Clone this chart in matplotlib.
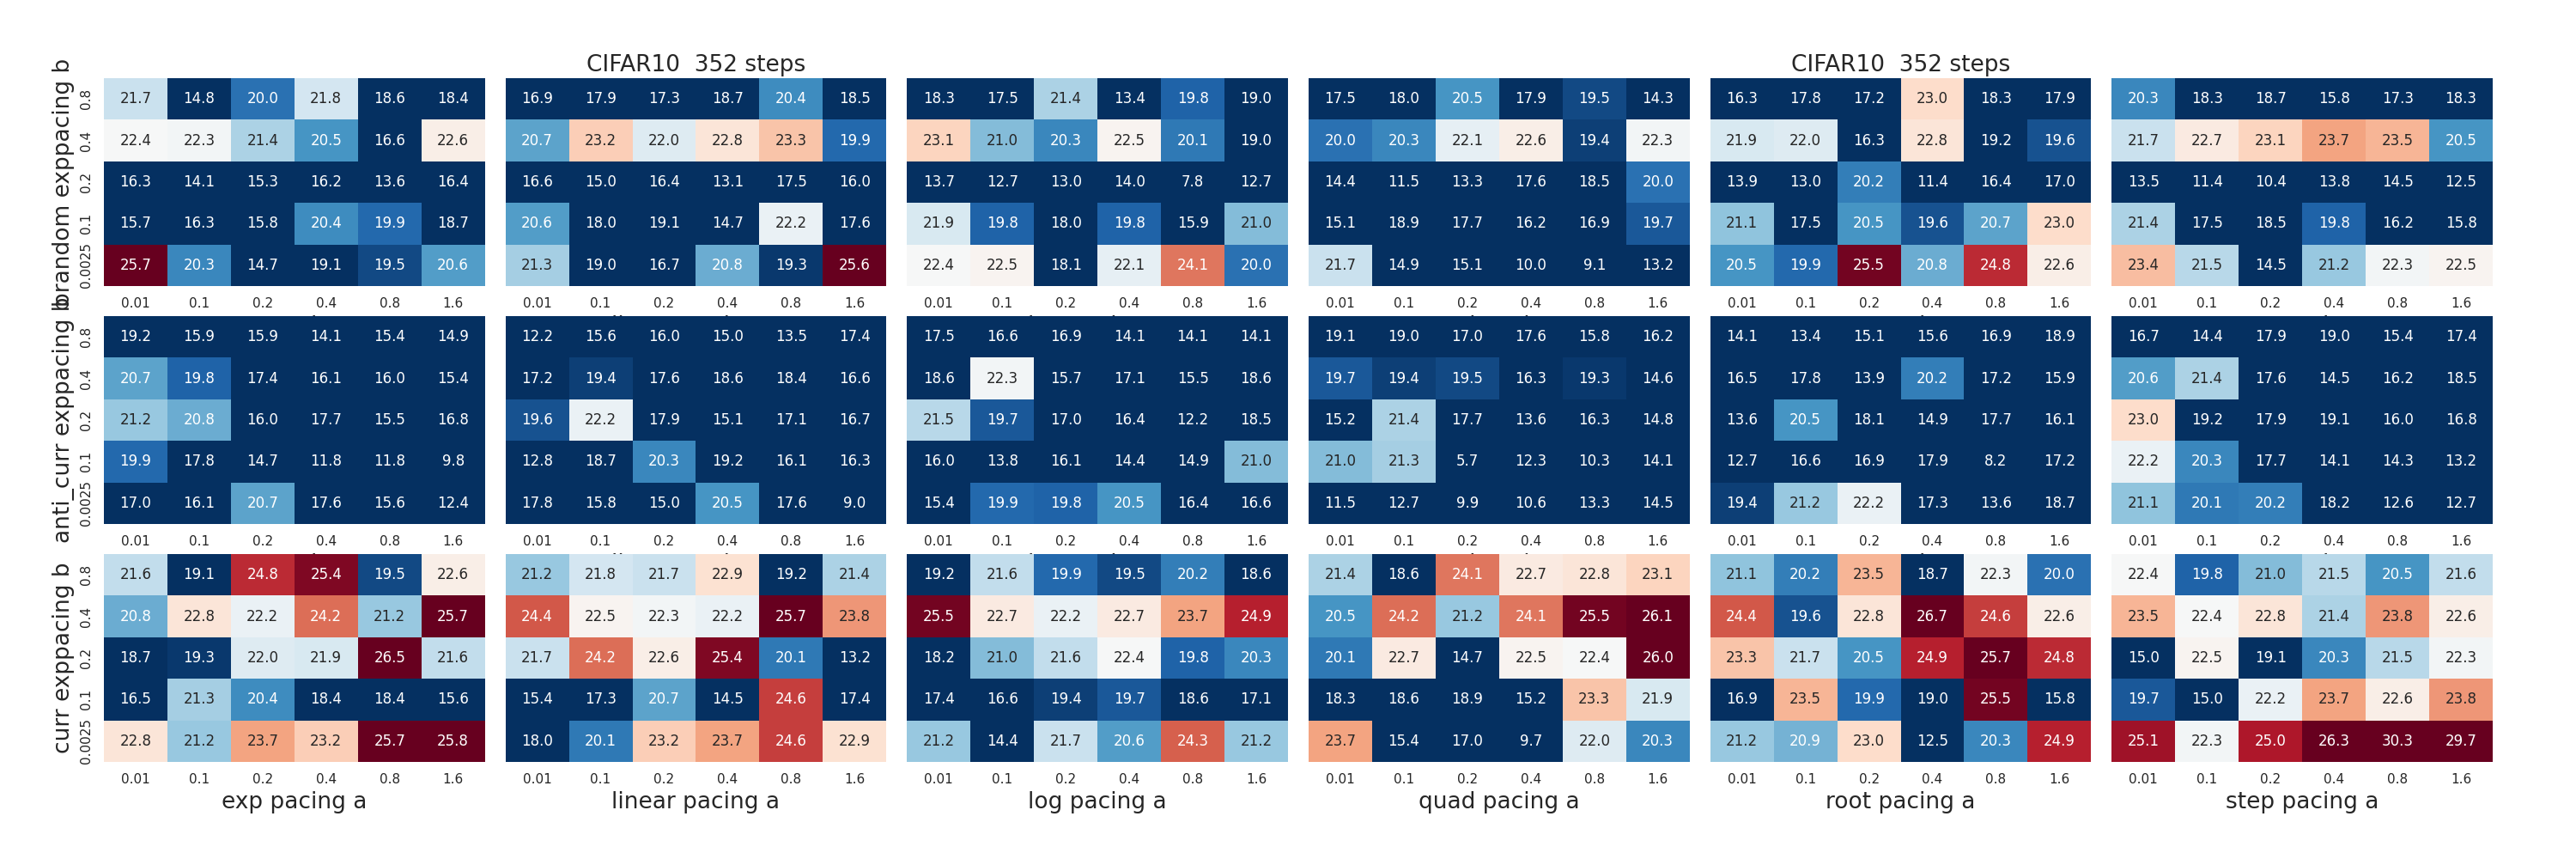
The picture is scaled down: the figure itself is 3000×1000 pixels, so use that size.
import matplotlib
matplotlib.use("Agg")
import matplotlib.pyplot as plt
import seaborn as sns

sns.set_theme()

a_vals = ["0.01", "0.1", "0.2", "0.4", "0.8", "1.6"]
b_vals = ["0.8", "0.4", "0.2", "0.1", "0.0025"]
pacings = ["exp", "linear", "log", "quad", "root", "step"]
orders = ["brandom", "anti_curr", "curr"]

# brandom
brandom_exp = [[21.7, 14.8, 20.0, 21.8, 18.6, 18.4],
               [22.4, 22.3, 21.4, 20.5, 16.6, 22.6],
               [16.3, 14.1, 15.3, 16.2, 13.6, 16.4],
               [15.7, 16.3, 15.8, 20.4, 19.9, 18.7],
               [25.7, 20.3, 14.7, 19.1, 19.5, 20.6]]
brandom_linear = [[16.9, 17.9, 17.3, 18.7, 20.4, 18.5],
                  [20.7, 23.2, 22.0, 22.8, 23.3, 19.9],
                  [16.6, 15.0, 16.4, 13.1, 17.5, 16.0],
                  [20.6, 18.0, 19.1, 14.7, 22.2, 17.6],
                  [21.3, 19.0, 16.7, 20.8, 19.3, 25.6]]
brandom_log = [[18.3, 17.5, 21.4, 13.4, 19.8, 19.0],
               [23.1, 21.0, 20.3, 22.5, 20.1, 19.0],
               [13.7, 12.7, 13.0, 14.0, 7.8, 12.7],
               [21.9, 19.8, 18.0, 19.8, 15.9, 21.0],
               [22.4, 22.5, 18.1, 22.1, 24.1, 20.0]]
brandom_quad = [[17.5, 18.0, 20.5, 17.9, 19.5, 14.3],
                [20.0, 20.3, 22.1, 22.6, 19.4, 22.3],
                [14.4, 11.5, 13.3, 17.6, 18.5, 20.0],
                [15.1, 18.9, 17.7, 16.2, 16.9, 19.7],
                [21.7, 14.9, 15.1, 10.0, 9.1, 13.2]]
brandom_root = [[16.3, 17.8, 17.2, 23.0, 18.3, 17.9],
                [21.9, 22.0, 16.3, 22.8, 19.2, 19.6],
                [13.9, 13.0, 20.2, 11.4, 16.4, 17.0],
                [21.1, 17.5, 20.5, 19.6, 20.7, 23.0],
                [20.5, 19.9, 25.5, 20.8, 24.8, 22.6]]
brandom_step = [[20.3, 18.3, 18.7, 15.8, 17.3, 18.3],
                [21.7, 22.7, 23.1, 23.7, 23.5, 20.5],
                [13.5, 11.4, 10.4, 13.8, 14.5, 12.5],
                [21.4, 17.5, 18.5, 19.8, 16.2, 15.8],
                [23.4, 21.5, 14.5, 21.2, 22.3, 22.5]]

# anti_curr
anti_exp = [[19.2, 15.9, 15.9, 14.1, 15.4, 14.9],
            [20.7, 19.8, 17.4, 16.1, 16.0, 15.4],
            [21.2, 20.8, 16.0, 17.7, 15.5, 16.8],
            [19.9, 17.8, 14.7, 11.8, 11.8, 9.8],
            [17.0, 16.1, 20.7, 17.6, 15.6, 12.4]]
anti_linear = [[12.2, 15.6, 16.0, 15.0, 13.5, 17.4],
               [17.2, 19.4, 17.6, 18.6, 18.4, 16.6],
               [19.6, 22.2, 17.9, 15.1, 17.1, 16.7],
               [12.8, 18.7, 20.3, 19.2, 16.1, 16.3],
               [17.8, 15.8, 15.0, 20.5, 17.6, 9.0]]
anti_log = [[17.5, 16.6, 16.9, 14.1, 14.1, 14.1],
            [18.6, 22.3, 15.7, 17.1, 15.5, 18.6],
            [21.5, 19.7, 17.0, 16.4, 12.2, 18.5],
            [16.0, 13.8, 16.1, 14.4, 14.9, 21.0],
            [15.4, 19.9, 19.8, 20.5, 16.4, 16.6]]
anti_quad = [[19.1, 19.0, 17.0, 17.6, 15.8, 16.2],
             [19.7, 19.4, 19.5, 16.3, 19.3, 14.6],
             [15.2, 21.4, 17.7, 13.6, 16.3, 14.8],
             [21.0, 21.3, 5.7, 12.3, 10.3, 14.1],
             [11.5, 12.7, 9.9, 10.6, 13.3, 14.5]]
anti_root = [[14.1, 13.4, 15.1, 15.6, 16.9, 18.9],
             [16.5, 17.8, 13.9, 20.2, 17.2, 15.9],
             [13.6, 20.5, 18.1, 14.9, 17.7, 16.1],
             [12.7, 16.6, 16.9, 17.9, 8.2, 17.2],
             [19.4, 21.2, 22.2, 17.3, 13.6, 18.7]]
anti_step = [[16.7, 14.4, 17.9, 19.0, 15.4, 17.4],
             [20.6, 21.4, 17.6, 14.5, 16.2, 18.5],
             [23.0, 19.2, 17.9, 19.1, 16.0, 16.8],
             [22.2, 20.3, 17.7, 14.1, 14.3, 13.2],
             [21.1, 20.1, 20.2, 18.2, 12.6, 12.7]]

# curr
curr_exp = [[21.6, 19.1, 24.8, 25.4, 19.5, 22.6],
            [20.8, 22.8, 22.2, 24.2, 21.2, 25.7],
            [18.7, 19.3, 22.0, 21.9, 26.5, 21.6],
            [16.5, 21.3, 20.4, 18.4, 18.4, 15.6],
            [22.8, 21.2, 23.7, 23.2, 25.7, 25.8]]
curr_linear = [[21.2, 21.8, 21.7, 22.9, 19.2, 21.4],
               [24.4, 22.5, 22.3, 22.2, 25.7, 23.8],
               [21.7, 24.2, 22.6, 25.4, 20.1, 13.2],
               [15.4, 17.3, 20.7, 14.5, 24.6, 17.4],
               [18.0, 20.1, 23.2, 23.7, 24.6, 22.9]]
curr_log = [[19.2, 21.6, 19.9, 19.5, 20.2, 18.6],
            [25.5, 22.7, 22.2, 22.7, 23.7, 24.9],
            [18.2, 21.0, 21.6, 22.4, 19.8, 20.3],
            [17.4, 16.6, 19.4, 19.7, 18.6, 17.1],
            [21.2, 14.4, 21.7, 20.6, 24.3, 21.2]]
curr_quad = [[21.4, 18.6, 24.1, 22.7, 22.8, 23.1],
             [20.5, 24.2, 21.2, 24.1, 25.5, 26.1],
             [20.1, 22.7, 14.7, 22.5, 22.4, 26.0],
             [18.3, 18.6, 18.9, 15.2, 23.3, 21.9],
             [23.7, 15.4, 17.0, 9.7, 22.0, 20.3]]
curr_root = [[21.1, 20.2, 23.5, 18.7, 22.3, 20.0],
             [24.4, 19.6, 22.8, 26.7, 24.6, 22.6],
             [23.3, 21.7, 20.5, 24.9, 25.7, 24.8],
             [16.9, 23.5, 19.9, 19.0, 25.5, 15.8],
             [21.2, 20.9, 23.0, 12.5, 20.3, 24.9]]
curr_step = [[22.4, 19.8, 21.0, 21.5, 20.5, 21.6],
             [23.5, 22.4, 22.8, 21.4, 23.8, 22.6],
             [15.0, 22.5, 19.1, 20.3, 21.5, 22.3],
             [19.7, 15.0, 22.2, 23.7, 22.6, 23.8],
             [25.1, 22.3, 25.0, 26.3, 30.3, 29.7]]

grid = [
    [brandom_exp, brandom_linear, brandom_log, brandom_quad, brandom_root, brandom_step],
    [anti_exp, anti_linear, anti_log, anti_quad, anti_root, anti_step],
    [curr_exp, curr_linear, curr_log, curr_quad, curr_root, curr_step],
]

fig, axes = plt.subplots(3, 6, figsize=(30, 10))
fig.subplots_adjust(left=0.0403, right=0.9677, bottom=0.113, top=0.909,
                    wspace=0.054, hspace=0.145)

for i, order in enumerate(orders):
    for j, pacing in enumerate(pacings):
        ax = axes[i, j]
        sns.heatmap(grid[i][j], ax=ax, cmap="RdBu_r", vmin=19.2, vmax=25.6,
                    annot=True, fmt=".1f", cbar=False,
                    xticklabels=a_vals,
                    yticklabels=b_vals if j == 0 else False,
                    annot_kws={"fontsize": 12})
        ax.set_xticklabels(a_vals, rotation=0)
        ax.set_xlabel(f"{pacing} pacing a", fontsize=19)
        if j == 0:
            ax.set_yticklabels(b_vals, rotation=90, va="center")
            ax.set_ylabel(f"{order} exppacing b", fontsize=19)

axes[0, 1].set_title("CIFAR10  352 steps", fontsize=19)
axes[0, 4].set_title("CIFAR10  352 steps", fontsize=19)

fig.savefig("out.png", dpi=100)
